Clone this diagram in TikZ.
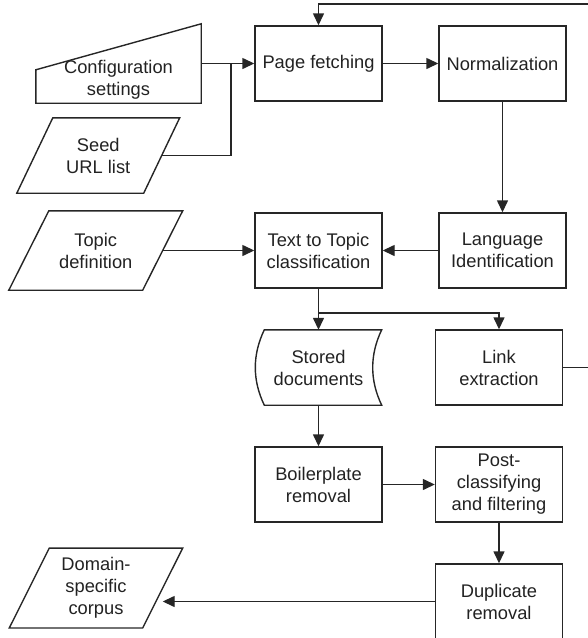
\documentclass[tikz,border=0pt]{standalone}
\usepackage{fontspec}
\setmainfont{Liberation Sans}
\usetikzlibrary{arrows.meta,calc}
\definecolor{lc}{HTML}{262626}
\definecolor{tc}{HTML}{222222}
\newcommand{\drawpara}[2]{%
  \draw[shapeline] ([xshift=#2pt]#1.north west) -- ([xshift=#2pt]#1.north east)
    -- ([xshift=-#2pt]#1.south east) -- ([xshift=-#2pt]#1.south west) -- cycle;}
\begin{document}
\begin{tikzpicture}[x=1pt,y=-1pt,
  shapeline/.style={draw=lc, line width=1.4pt, line join=miter},
  txt/.style={align=center, inner sep=0pt, text=tc, font=\fontsize{18.3}{22}\selectfont},
  box/.style={txt, draw=lc, line width=1.4pt, minimum width=127pt, minimum height=75pt},
  arr/.style={draw=lc, line width=1.4pt, -{Triangle[length=12pt,width=11pt]}},
  ln/.style={draw=lc, line width=1.4pt}]
\useasboundingbox (0,0) rectangle (588,638);

% process boxes
\node[box] (pf)   at (318.5,63.5)  {Page fetching};
\node[box] (norm) at (502.5,63.5)  {Normalization};
\node[box] (lang) at (502.5,250.5) {Language\\Identification};
\node[box] (ttc)  at (318.5,250.5) {Text to Topic\\classification};
\node[box] (link) at (499,367.5)   {Link\\extraction};
\node[box] (boil) at (318.5,484.5) {Boilerplate\\removal};
\node[box] (post) at (499,484.5)   {Post-\\classifying\\and filtering};
\node[box] (dup)  at (499,601.5)   {Duplicate\\removal};

% stored documents
\node[txt, minimum width=126pt, minimum height=75pt] (stored) at (318.5,367.5) {Stored\\documents};
\draw[shapeline] ([xshift=9pt]stored.north west) -- (stored.north east)
  .. controls ([xshift=-12pt,yshift=-25pt]stored.north east) and ([xshift=-12pt,yshift=25pt]stored.south east) .. (stored.south east)
  -- ([xshift=9pt]stored.south west)
  .. controls ([xshift=-3pt,yshift=25pt]stored.south west) and ([xshift=-3pt,yshift=-25pt]stored.north west) .. ([xshift=9pt]stored.north west) -- cycle;

% configuration settings (manual input)
\node[minimum width=165pt, minimum height=79pt, inner sep=0pt] (cfg) at (118.5,63.5) {};
\node[txt] (cfgt) at (118.5,80) {Configuration\\settings};
\draw[shapeline] ([yshift=-46pt]cfg.north west) -- (cfg.north east) -- (cfg.south east) -- (cfg.south west) -- cycle;

% parallelograms
\node[txt, minimum width=126.5pt, minimum height=75pt] (seed) at (98.25,155.5) {Seed\\URL list};
\drawpara{seed}{18}
\node[txt, minimum width=133.5pt, minimum height=79pt] (topic) at (95.75,250.5) {Topic\\definition};
\drawpara{topic}{20}
\node[txt, minimum width=133pt, minimum height=79.5pt] (dom) at (96,588) {Domain-\\specific\\corpus};
\drawpara{dom}{20}

% connectors
\coordinate (j) at (231,63.5);
\coordinate (br) at (318.5,313);
\coordinate (topR) at (610,4);
\draw[arr] (cfg.east) -- (pf.west);
\draw[ln] (seed.east) -| (j);
\draw[arr] (pf.east) -- (norm.west);
\draw[arr] (norm.south) -- (lang.north);
\draw[arr] (lang.west) -- (ttc.east);
\draw[arr] (topic.east) -- (ttc.west);
\draw[arr] (ttc.south) -- (stored.north);
\draw[arr] (br) -| (link.north);
\draw[arr] (link.east) -| (topR) -| (pf.north);
\draw[arr] (stored.south) -- (boil.north);
\draw[arr] (boil.east) -- (post.west);
\draw[arr] (post.south) -- (dup.north);
\draw[arr] (dup.west) -- (dom.east |- dup.west);
\end{tikzpicture}
\end{document}
